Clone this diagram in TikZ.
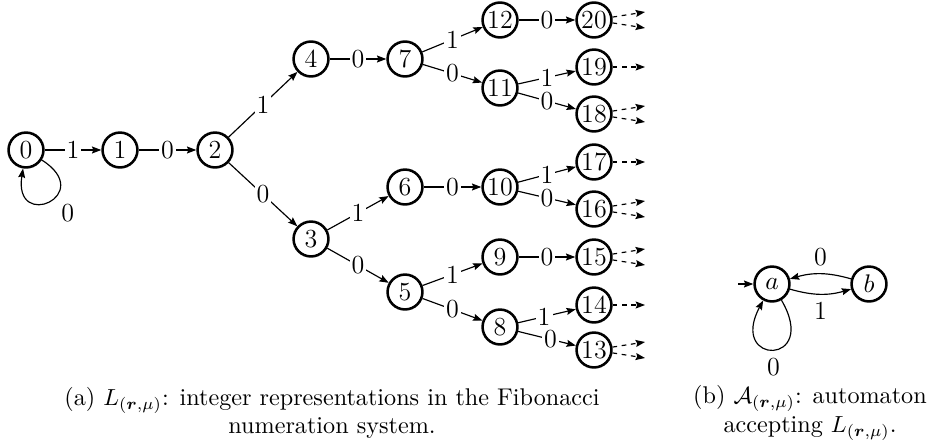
\documentclass[tikz,border=0pt]{standalone}
\usepackage{amsmath}
\usetikzlibrary{arrows.meta}
\begin{document}
\begin{tikzpicture}[x=0.43pt,y=-0.43pt,
  lbl/.style={font=\fontsize{11.2}{13}\selectfont},
  state/.style={circle,draw,line width=1.1pt,minimum size=15pt,inner sep=0.3pt,lbl},
  tr/.style={line width=0.5pt,-{Stealth[length=4pt,width=3pt,inset=0.6pt]}},
  lab/.style={fill=white,inner sep=0.9pt,lbl},
  more/.style={tr,dash pattern=on 2pt off 2pt},
  captext/.style={align=center,font=\fontsize{10.4}{12.2}\selectfont}]
\useasboundingbox (0,0) rectangle (930,446);

% (a) tree of Fibonacci representations
\node[state] (n0)  at (26,150)  {0};
\node[state] (n1)  at (120,150) {1};
\node[state] (n2)  at (215,150) {2};
\node[state] (n4)  at (311,59)  {4};
\node[state] (n3)  at (311,239) {3};
\node[state] (n7)  at (405,59)  {7};
\node[state] (n6)  at (405,187) {6};
\node[state] (n5)  at (405,292) {5};
\node[state] (n12) at (500,20)  {12};
\node[state] (n11) at (500,88)  {11};
\node[state] (n10) at (500,187) {10};
\node[state] (n9)  at (500,257) {9};
\node[state] (n8)  at (500,327) {8};
\node[state] (n20) at (594,20)  {20};
\node[state] (n19) at (594,67)  {19};
\node[state] (n18) at (594,114) {18};
\node[state] (n17) at (594,162) {17};
\node[state] (n16) at (594,209) {16};
\node[state] (n15) at (594,257) {15};
\node[state] (n14) at (594,305) {14};
\node[state] (n13) at (594,350) {13};

\draw[tr] (n0) .. controls (97,195) and (13,232) .. node[pos=0.42,below right,inner sep=2.5pt,lbl] {0} (n0);

\draw[tr] (n0)  -- node[lab] {1} (n1);
\draw[tr] (n1)  -- node[lab] {0} (n2);
\draw[tr] (n2)  -- node[lab] {1} (n4);
\draw[tr] (n2)  -- node[lab] {0} (n3);
\draw[tr] (n4)  -- node[lab] {0} (n7);
\draw[tr] (n7)  -- node[lab] {1} (n12);
\draw[tr] (n7)  -- node[lab] {0} (n11);
\draw[tr] (n12) -- node[lab] {0} (n20);
\draw[tr] (n11) -- node[lab] {1} (n19);
\draw[tr] (n11) -- node[lab] {0} (n18);
\draw[tr] (n3)  -- node[lab] {1} (n6);
\draw[tr] (n3)  -- node[lab] {0} (n5);
\draw[tr] (n6)  -- node[lab] {0} (n10);
\draw[tr] (n10) -- node[lab] {1} (n17);
\draw[tr] (n10) -- node[lab] {0} (n16);
\draw[tr] (n5)  -- node[lab] {1} (n9);
\draw[tr] (n5)  -- node[lab] {0} (n8);
\draw[tr] (n9)  -- node[lab] {0} (n15);
\draw[tr] (n8)  -- node[lab,pos=0.45] {1} (n14);
\draw[tr] (n8)  -- node[lab,pos=0.56] {0} (n13);

% continuation of the tree
\coordinate (c20a) at (645,12);  \coordinate (c20b) at (645,28);
\coordinate (c19)  at (645,67);
\coordinate (c18a) at (645,106); \coordinate (c18b) at (645,122);
\coordinate (c17)  at (645,162);
\coordinate (c16a) at (645,201); \coordinate (c16b) at (645,217);
\coordinate (c15a) at (645,249); \coordinate (c15b) at (645,265);
\coordinate (c14)  at (645,305);
\coordinate (c13a) at (645,342); \coordinate (c13b) at (645,358);
\draw[more] (n20) -- (c20a);
\draw[more] (n20) -- (c20b);
\draw[more] (n19) -- (c19);
\draw[more] (n18) -- (c18a);
\draw[more] (n18) -- (c18b);
\draw[more] (n17) -- (c17);
\draw[more] (n16) -- (c16a);
\draw[more] (n16) -- (c16b);
\draw[more] (n15) -- (c15a);
\draw[more] (n15) -- (c15b);
\draw[more] (n14) -- (c14);
\draw[more] (n13) -- (c13a);
\draw[more] (n13) -- (c13b);

% (b) automaton
\node[state] (a) at (772,284) {$a$};
\node[state] (b) at (869,284) {$b$};
\coordinate (init) at (738,284);
\draw[tr] (init) -- (a);
\draw[tr] (a) to[bend right=16] node[below,lbl] {1} (b);
\draw[tr] (b) to[bend right=16] node[above,lbl] {0} (a);
\draw[tr] (a) .. controls (820,366) and (728,366) .. node[below,lbl] {0} (a);

% captions
\node[captext] (capa) at (332,413) {(a) $L_{(\boldsymbol{r},\mu)}$: integer representations in the Fibonacci\\ numeration system.};
\node[captext] (capb) at (810,413) {(b) $\mathcal{A}_{(\boldsymbol{r},\mu)}$: automaton\\ accepting $L_{(\boldsymbol{r},\mu)}$.};
\end{tikzpicture}
\end{document}
